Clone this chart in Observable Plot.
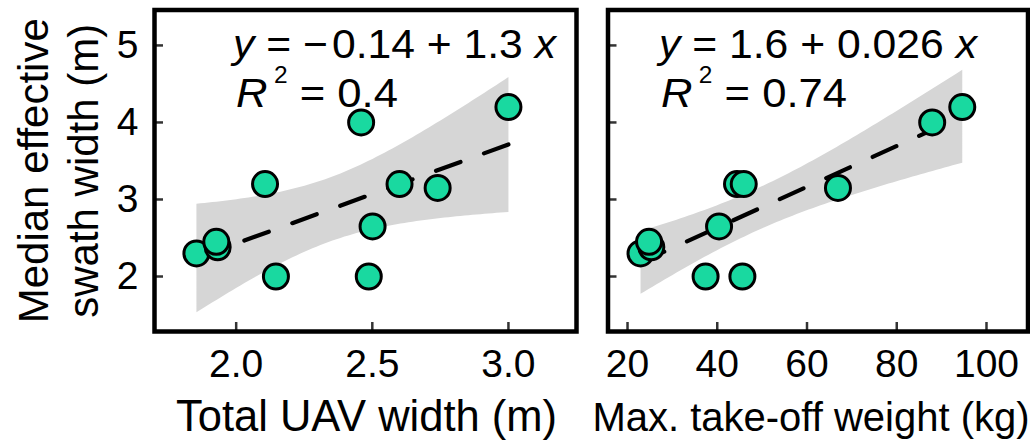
<!DOCTYPE html>
<html><head><meta charset="utf-8">
<script src="https://cdn.jsdelivr.net/npm/d3@7"></script>
<script src="https://cdn.jsdelivr.net/npm/@observablehq/plot@0.6"></script>
<style>
body{margin:0;background:#fff;}
#wrap{display:flex;width:1030px;height:441px;overflow:hidden;}
#wrap svg{overflow:visible;flex:none;max-width:none;}
</style></head><body><div id="wrap"></div>
<script>
// ---- data (11 UAVs; one is mostly hidden behind another) ----
const uavWidth   = [1.854, 1.932, 1.927, 2.106, 2.146, 2.459, 2.501, 2.487, 2.60, 2.74, 3.00];
const mtow       = [22.9, 25.3, 24.8, 44.4, 37.4, 87.9, 40.4, 45.6, 45.9, 66.9, 94.6];
const swathWidth = [2.30, 2.38, 2.45, 3.20, 2.00, 4.00, 2.65, 2.00, 3.20, 3.15, 4.20];
const xTicksLeft  = [2.0, 2.5, 3.0];
const xTicksRight = [20, 40, 60, 80, 100];
const yTicks      = [2, 3, 4, 5];
const yTitle      = "Median effective\nswath width (m)";
const xTitleLeft  = "Total UAV width (m)";
const xTitleRight = "Max. take-off weight (kg)";
const eqLeft  = {sign: "\u2212", a: "0.14", b: "1.3", r2: "0.4"};
const eqRight = {sign: "", a: "1.6", b: "0.026", r2: "0.74"};

const rows = uavWidth.map((w, i) => ({w, m: mtow[i], s: swathWidth[i]}));

const FONT = "'Liberation Sans', Arial, Helvetica, sans-serif";
const dotFill = "#19d9a0";
const bandFill = "#d6d6d6";

function panel({xKey, xDomain, xTicks, xFmt, width, mL, mR, showY, xTitle, titleDx, titleSize}) {
  const marks = [
    Plot.linearRegressionY(rows, {x: xKey, y: "s", stroke: "black", strokeWidth: 4.2,
      strokeDasharray: "26,25", fill: bandFill, fillOpacity: 1, ci: 0.95}),
    Plot.dot(rows, {x: xKey, y: "s", r: 12.5, fill: dotFill, stroke: "black", strokeWidth: 3}),
    Plot.axisX({ticks: xTicks, text: null, tickSize: -9, stroke: "#333", strokeWidth: 2.5, label: null}),
    Plot.axisX({ticks: xTicks, tickSize: 0, tickPadding: 18, tickFormat: xFmt, fontSize: 39, label: null}),
    Plot.axisY({ticks: yTicks, text: null, tickSize: -9, stroke: "#333", strokeWidth: 2.5, label: null}),
    Plot.frame({stroke: "black", strokeWidth: 4.5}),
    Plot.text([xTitle], {text: d => d, frameAnchor: "bottom", dy: 99, dx: titleDx, fontSize: titleSize, lineAnchor: "bottom"})
  ];
  if (showY) {
    marks.push(Plot.axisY({ticks: yTicks, tickSize: 0, tickPadding: 16, tickFormat: d3.format("d"), fontSize: 39, label: null}));
    marks.push(Plot.text([yTitle], {text: d => d, frameAnchor: "left", rotate: -90, dx: -98,
      fontSize: 42, lineHeight: 50 / 42, lineAnchor: "middle", textAnchor: "middle"}));
  }
  return Plot.plot({
    width, height: 441,
    marginLeft: mL, marginRight: mR, marginTop: 9.5, marginBottom: 110,
    style: {fontFamily: FONT, background: "white", overflow: "visible"},
    x: {domain: xDomain},
    y: {domain: [1.286, 5.46]},
    marks
  });
}

function addEquation(svg, eq, x1, x2, len1, len2) {
  const s = d3.select(svg);
  const t1 = s.append("text").attr("x", x1).attr("y", 58).attr("text-anchor", "start")
    .attr("textLength", len1).attr("lengthAdjust", "spacingAndGlyphs")
    .style("font-family", FONT).style("font-size", "41px").style("white-space", "pre").attr("fill", "black");
  t1.append("tspan").attr("font-style", "italic").text("y");
  t1.append("tspan").text(" = " + eq.sign);
  t1.append("tspan").attr("dx", eq.sign ? 4 : 0).text(eq.a + " + " + eq.b + " ");
  t1.append("tspan").attr("font-style", "italic").text("x");
  const t2 = s.append("text").attr("x", x2).attr("y", 107).attr("text-anchor", "start")
    .attr("textLength", len2).attr("lengthAdjust", "spacingAndGlyphs")
    .style("font-family", FONT).style("font-size", "41px").style("white-space", "pre").attr("fill", "black");
  t2.append("tspan").attr("font-style", "italic").text("R");
  t2.append("tspan").attr("dx", 6).attr("dy", -24).style("font-size", "23px").text("2");
  t2.append("tspan").attr("dy", 24).text(" = " + eq.r2);
}

const left = panel({xKey: "w", xDomain: [1.70, 3.25], xTicks: xTicksLeft, xFmt: d3.format(".1f"),
  width: 590, mL: 154, mR: 14, showY: true, xTitle: xTitleLeft, titleDx: 1, titleSize: 43.5});
const right = panel({xKey: "m", xDomain: [15.65, 109.25], xTicks: xTicksRight, xFmt: d3.format("d"),
  width: 440, mL: 17.5, mR: 2.5, showY: false, xTitle: xTitleRight, titleDx: -7, titleSize: 40});
addEquation(left, eqLeft, 233, 236, 323, 162);
addEquation(right, eqRight, 69, 71, 318, 186);

const wrap = document.getElementById("wrap");
wrap.appendChild(left);
wrap.appendChild(right);
</script>
</body></html>
